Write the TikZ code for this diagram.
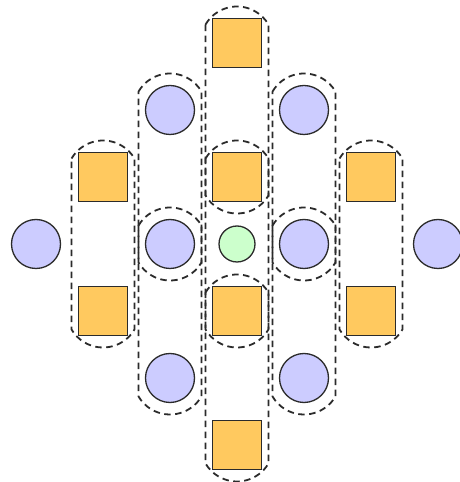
\documentclass[tikz,border=0pt]{standalone}
\usetikzlibrary{calc}
\definecolor{sqfill}{HTML}{FFC95F}
\definecolor{cifill}{HTML}{CCCCFF}
\definecolor{grfill}{HTML}{CCFFCC}
\definecolor{edge}{HTML}{2B2B2B}
\tikzset{
  sq/.style={rectangle, minimum size=49pt, inner sep=0pt, fill=sqfill, draw=edge, line width=1.3pt},
  ci/.style={circle, minimum size=49pt, inner sep=0pt, fill=cifill, draw=edge, line width=1.3pt},
  gr/.style={circle, minimum size=36pt, inner sep=0pt, fill=grfill, draw=edge, line width=1.3pt},
  grp/.style={draw=edge, line width=1.8pt, dash pattern=on 6.5pt off 4.5pt},
}
\newcommand\grpshape[2]{%
  \draw[grp] ($(#1)+(149.5:36.5)$) arc[start angle=149.5, end angle=30.5, radius=36.5]
    -- ($(#2)+(-30.5:36.5)$) arc[start angle=-30.5, end angle=-149.5, radius=36.5] -- cycle;}
\begin{document}
\begin{tikzpicture}[x=1pt, y=1pt]
\useasboundingbox (0,0) rectangle (460,482);
\node[sq] (s1) at (237,439) {};
\node[ci] (c1) at (170,372) {};
\node[ci] (c2) at (304,372) {};
\node[sq] (s2) at (103,305) {};
\node[sq] (s3) at (237,305) {};
\node[sq] (s4) at (371,305) {};
\node[ci] (c3) at (36,238) {};
\node[ci] (c4) at (170,238) {};
\node[gr] (g) at (237,238) {};
\node[ci] (c5) at (304,238) {};
\node[ci] (c6) at (438,238) {};
\node[sq] (s5) at (103,171) {};
\node[sq] (s6) at (237,171) {};
\node[sq] (s7) at (371,171) {};
\node[ci] (c7) at (170,104) {};
\node[ci] (c8) at (304,104) {};
\node[sq] (s8) at (237,37) {};
\grpshape{s1}{s8}
\grpshape{c1}{c7}
\grpshape{c2}{c8}
\grpshape{s2}{s5}
\grpshape{s4}{s7}
\grpshape{c4}{c4}
\grpshape{c5}{c5}
\grpshape{s3}{s3}
\grpshape{s6}{s6}
\end{tikzpicture}
\end{document}
